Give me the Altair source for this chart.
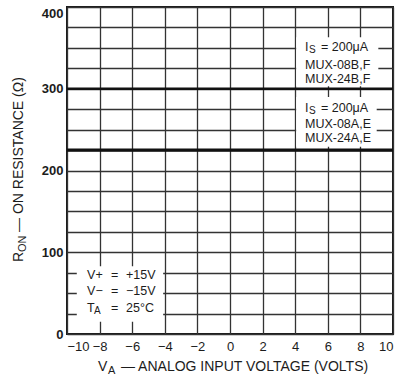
import altair as alt
import pandas as pd

# On-resistance vs analog input voltage, MUX-08/MUX-24 families
voltage = [-10, -8, -6, -4, -2, 0, 2, 4, 6, 8, 10]
ron_bf = [300, 300, 300, 300, 300, 300, 300, 300, 300, 300, 300]  # MUX-08B,F / MUX-24B,F
ron_ae = [225, 225, 225, 225, 225, 225, 225, 225, 225, 225, 225]  # MUX-08A,E / MUX-24A,E

x_ticks = [-10, -8, -6, -4, -2, 0, 2, 4, 6, 8, 10]
y_grid = [0, 25, 50, 75, 100, 125, 150, 175, 200, 225, 250, 275, 300, 325, 350, 375, 400]

FONT = "Liberation Sans"
INK = "#1c1c1c"

x_enc = alt.X(
    "v:Q",
    scale=alt.Scale(domain=[-10, 10], nice=False, zero=False),
    axis=alt.Axis(values=x_ticks, title=None, ticks=False, domain=False,
                  labelPadding=6, labelFontSize=13, labelFontWeight="normal"),
)
y_enc = alt.Y(
    "r:Q",
    scale=alt.Scale(domain=[0, 400], nice=False),
    axis=alt.Axis(values=y_grid, title=None, ticks=False, domain=False,
                  labelPadding=4, labelFontSize=13, labelFontWeight="bold",
                  labelExpr="datum.value % 100 == 0 ? datum.label : ''",
                  labelOffset={"condition": {"test": "datum.value == 400", "value": 6},
                               "value": 0}),
)

curve_bf = pd.DataFrame({"v": voltage, "r": ron_bf})
curve_ae = pd.DataFrame({"v": voltage, "r": ron_ae})

line_bf = alt.Chart(curve_bf).mark_line(color="#111", strokeWidth=2.4).encode(x=x_enc, y=y_enc)
line_ae = alt.Chart(curve_ae).mark_line(color="#111", strokeWidth=3.3).encode(x=x_enc, y=y_enc)

# white backing panels for the annotation blocks
panels = pd.DataFrame({
    "v": [4.06, 4.06, -9.4],
    "v2": [9.1, 9.0, -4.1],
    "r": [303, 229, 15],
    "r2": [363, 290, 83],
})
panel_layer = alt.Chart(panels).mark_rect(color="white").encode(
    x=x_enc, x2="v2:Q", y=y_enc, y2="r2:Q"
)


def text_layer(df, dx=0, dy=0, size=12.5):
    return alt.Chart(df).mark_text(
        align="left", baseline="middle", dx=dx, dy=dy,
        fontSize=size, font=FONT, color=INK,
    ).encode(x=x_enc, y=y_enc, text="t:N")


ann_x = 4.6
is_rows = pd.DataFrame({"v": [ann_x, ann_x], "r": [351, 276]})
is_main = text_layer(is_rows.assign(t="I"))
is_sub = text_layer(is_rows.assign(t="S"), dx=4, dy=3, size=10)
is_rest = text_layer(is_rows.assign(t="= 200\u03bcA"), dx=16)
mux_rows = text_layer(pd.DataFrame({
    "v": [ann_x, ann_x, ann_x, ann_x],
    "r": [329, 312, 257, 240],
    "t": ["MUX-08B,F", "MUX-24B,F", "MUX-08A,E", "MUX-24A,E"],
}))

cond_x = -8.77
cond_left = text_layer(pd.DataFrame({"v": [cond_x, cond_x, cond_x],
                                     "r": [72, 52, 32],
                                     "t": ["V+", "V\u2212", "T"]}))
cond_sub = text_layer(pd.DataFrame({"v": [cond_x], "r": [32], "t": ["A"]}),
                      dx=7, dy=3, size=10)
cond_eq = text_layer(pd.DataFrame({"v": [cond_x] * 3, "r": [72, 52, 32],
                                   "t": ["=", "=", "="]}), dx=24)
cond_val = text_layer(pd.DataFrame({"v": [cond_x] * 3, "r": [72, 52, 32],
                                    "t": ["+15V", "\u221215V", "25\u00b0C"]}), dx=39)


def title_piece(text, x, y, size=14, angle=0):
    return alt.Chart(pd.DataFrame({"t": [text]})).mark_text(
        align="left", baseline="middle", fontSize=size, font=FONT,
        color=INK, angle=angle,
    ).encode(x=alt.value(x), y=alt.value(y), text="t:N")


x_title = (
    title_piece("V", 31, 360)
    + title_piece("A", 41, 364, size=11)
    + title_piece("\u2014 ANALOG INPUT VOLTAGE (VOLTS)", 54, 360)
)
y_title = (
    title_piece("R", -48, 255, angle=270)
    + title_piece("ON", -44, 245, size=11, angle=270)
    + title_piece("\u2014 ON RESISTANCE (\u03a9)", -48, 225, angle=270)
)

chart = alt.layer(
    line_bf, line_ae, panel_layer,
    is_main, is_sub, is_rest, mux_rows,
    cond_left, cond_sub, cond_eq, cond_val,
    x_title, y_title,
).properties(
    width=326, height=327,
    autosize=alt.AutoSizeParams(type="none"),
    padding={"left": 67, "top": 7, "right": 6, "bottom": 46},
    background="white",
).configure_view(
    stroke="#1a1a1a", strokeWidth=2,
).configure_axis(
    grid=True, gridColor="#333333", gridWidth=1.3, gridOpacity=1,
    labelFont=FONT, labelColor=INK,
)

chart.save("out.html", embed_options={"renderer": "svg", "actions": False})
